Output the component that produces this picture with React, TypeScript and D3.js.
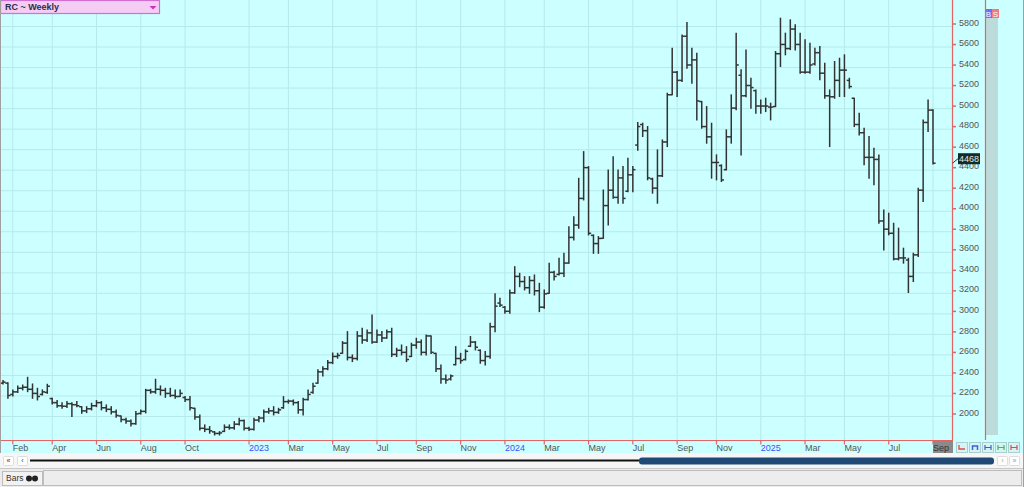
import React from 'react';
import * as d3 from 'd3';

const firstWeek = '2022-01-21';

const opens = [
  2325, 2325, 2215, 2240, 2275, 2285, 2265, 2225, 2215, 2235,
  2175, 2135, 2105, 2100, 2125, 2115, 2095, 2055, 2075, 2105,
  2135, 2085, 2070, 2045, 2005, 1970, 1955, 1930, 2030, 2050,
  2255, 2240, 2265, 2255, 2225, 2205, 2195, 2185, 2165, 2080,
  1995, 1885, 1875, 1850, 1835, 1855, 1895, 1890, 1925, 1960,
  1885, 1875, 1965, 1985, 2045, 2055, 2040, 2085, 2145, 2150,
  2135, 2065, 2165, 2235, 2325, 2435, 2465, 2525, 2585, 2616,
  2715, 2575, 2565, 2785, 2745, 2815, 2725, 2795, 2765, 2825,
  2605, 2645, 2625, 2585, 2695, 2725, 2625, 2785, 2615, 2465,
  2365, 2365, 2505, 2565, 2555, 2685, 2725, 2645, 2545, 2585,
  2875, 3105, 3065, 3025, 3205, 3365, 3315, 3255, 3325, 3225,
  3065, 3200, 3405, 3385, 3395, 3495, 3745, 3865, 4125, 4425,
  3765, 3685, 3736, 4055, 4205, 4135, 4325, 4195, 4355, 4645,
  4845, 4785, 4315, 4225, 4345, 4675, 5135, 5355, 5275, 5705,
  5425, 5475, 5069, 4825, 4725, 4475, 4445, 4405, 4725, 5005,
  5325, 5125, 5225, 5175, 5025, 5025, 5015, 5020, 5535, 5625,
  5585, 5775, 5625, 5355, 5355, 5435, 5545, 5345, 5125, 5115,
  5275, 5375, 5275, 5101, 4845, 4765, 4525, 4525, 4505, 3905,
  3825, 3785, 3535, 3545, 3525, 3365, 3575, 4205, 4865, 4985,
];

const highs = [
  2350, 2330, 2259, 2298, 2307, 2382, 2317, 2275, 2259, 2314,
  2177, 2155, 2135, 2145, 2135, 2145, 2096, 2096, 2129, 2155,
  2145, 2113, 2096, 2064, 2005, 1983, 1966, 2048, 2064, 2265,
  2265, 2363, 2298, 2275, 2275, 2259, 2259, 2194, 2194, 2080,
  2015, 1918, 1902, 1853, 1853, 1918, 1918, 1950, 1983, 1966,
  1895, 1983, 1999, 2064, 2080, 2096, 2080, 2194, 2161, 2161,
  2145, 2178, 2259, 2324, 2455, 2485, 2545, 2619, 2616, 2730,
  2827, 2600, 2827, 2860, 2844, 2990, 2844, 2827, 2844, 2860,
  2665, 2697, 2681, 2714, 2762, 2746, 2795, 2785, 2616, 2503,
  2405, 2405, 2681, 2616, 2649, 2779, 2730, 2649, 2633, 2909,
  3195, 3152, 3071, 3233, 3460, 3395, 3363, 3363, 3379, 3298,
  3233, 3493, 3415, 3541, 3590, 3850, 3947, 4321, 4581, 4435,
  3769, 3753, 4207, 4402, 4532, 4402, 4435, 4516, 4435, 4865,
  4858, 4825, 4322, 4598, 4695, 5150, 5588, 5361, 5718, 5839,
  5588, 5540, 5069, 5020, 4858, 4549, 4452, 4793, 5134, 5735,
  5378, 5572, 5296, 5182, 5085, 5101, 5053, 5556, 5881, 5735,
  5865, 5816, 5735, 5670, 5637, 5588, 5605, 5442, 5182, 5459,
  5491, 5524, 5296, 5101, 4955, 4809, 4728, 4614, 4549, 4013,
  3981, 3883, 3835, 3640, 3542, 3591, 4224, 4890, 5085, 4988,
];

const lows = [
  2317, 2177, 2200, 2233, 2259, 2242, 2177, 2161, 2210, 2226,
  2122, 2090, 2080, 2087, 1999, 2096, 2031, 2038, 2064, 2096,
  2064, 2048, 2025, 1992, 1950, 1934, 1908, 1925, 2025, 2035,
  2226, 2226, 2210, 2187, 2194, 2178, 2194, 2145, 2064, 1973,
  1869, 1853, 1837, 1820, 1820, 1853, 1876, 1876, 1918, 1869,
  1863, 1869, 1950, 1950, 2031, 2015, 2031, 2080, 2129, 2113,
  2031, 2015, 2161, 2226, 2325, 2395, 2455, 2515, 2568, 2616,
  2551, 2535, 2551, 2714, 2730, 2714, 2720, 2730, 2762, 2584,
  2584, 2600, 2535, 2584, 2665, 2600, 2600, 2615, 2438, 2324,
  2324, 2356, 2503, 2519, 2551, 2681, 2649, 2519, 2503, 2568,
  2825, 3071, 3006, 3006, 3200, 3265, 3233, 3200, 3184, 3022,
  3055, 3200, 3330, 3379, 3363, 3493, 3720, 3834, 4110, 3769,
  3590, 3590, 3736, 3866, 4126, 4077, 4077, 4191, 4191, 4595,
  4728, 4306, 4176, 4078, 4338, 4630, 5134, 5118, 5264, 5394,
  5247, 4890, 4809, 4663, 4322, 4306, 4289, 4403, 4663, 4988,
  4549, 5115, 5004, 4955, 4955, 4971, 4890, 5020, 5410, 5524,
  5575, 5572, 5345, 5345, 5345, 5426, 5280, 5101, 4630, 5101,
  5118, 5118, 5199, 4825, 4744, 4452, 4322, 4257, 3883, 3623,
  3770, 3526, 3526, 3494, 3208, 3315, 3558, 4094, 4777, 4460,
];

const closes = [
  2335, 2205, 2240, 2275, 2285, 2265, 2225, 2195, 2240, 2295,
  2135, 2105, 2100, 2125, 2115, 2105, 2055, 2075, 2105, 2135,
  2085, 2070, 2045, 2010, 1970, 1955, 1930, 2025, 2050, 2255,
  2240, 2265, 2255, 2225, 2205, 2195, 2225, 2165, 2085, 1995,
  1885, 1875, 1860, 1835, 1840, 1895, 1890, 1925, 1960, 1885,
  1875, 1965, 1985, 2045, 2055, 2040, 2065, 2145, 2150, 2135,
  2065, 2165, 2215, 2295, 2435, 2465, 2525, 2585, 2595, 2715,
  2575, 2565, 2785, 2745, 2815, 2725, 2795, 2765, 2825, 2605,
  2645, 2625, 2555, 2695, 2725, 2625, 2785, 2625, 2465, 2365,
  2355, 2395, 2565, 2545, 2635, 2725, 2675, 2545, 2585, 2875,
  3075, 3085, 3025, 3205, 3365, 3315, 3255, 3325, 3225, 3065,
  3195, 3405, 3365, 3395, 3495, 3745, 3865, 4125, 4425, 3785,
  3685, 3735, 4055, 4205, 4135, 4325, 4125, 4355, 4405, 4825,
  4785, 4325, 4225, 4345, 4675, 5135, 5355, 5275, 5705, 5425,
  5475, 5075, 4825, 4725, 4475, 4475, 4305, 4725, 5005, 5425,
  5125, 5225, 5205, 5025, 5025, 5025, 5015, 5535, 5625, 5585,
  5775, 5625, 5355, 5355, 5425, 5545, 5345, 5125, 5115, 5275,
  5375, 5375, 5215, 4845, 4765, 4525, 4525, 4505, 3905, 3825,
  3785, 3535, 3545, 3545, 3365, 3575, 4205, 4865, 4985, 4468,
];

const priceTicks = [2000, 2200, 2400, 2600, 2800, 3000, 3200, 3400, 3600, 3800, 4000, 4200, 4400, 4600, 4800, 5000, 5200, 5400, 5600, 5800];

const tickMonths = ['2022-02', '2022-04', '2022-06', '2022-08', '2022-10', '2023-01', '2023-03', '2023-05', '2023-07', '2023-09', '2023-11', '2024-01', '2024-03', '2024-05', '2024-07', '2024-09', '2024-11', '2025-01', '2025-03', '2025-05', '2025-07', '2025-09'];
const tickLabels = ['Feb', 'Apr', 'Jun', 'Aug', 'Oct', '2023', 'Mar', 'May', 'Jul', 'Sep', 'Nov', '2024', 'Mar', 'May', 'Jul', 'Sep', 'Nov', '2025', 'Mar', 'May', 'Jul', 'Sep'];

const title = 'RC ~ Weekly';
const tabLabel = 'Bars';

const FONT = '"Liberation Sans", Arial, sans-serif';
const BG = '#ccffff';
const GRID = '#b6eaea';
const RED = '#e46464';
const BAR = '#333333';

export default function App() {
  const parse = d3.utcParse('%Y-%m-%d');
  const t0 = parse(firstWeek) as Date;
  const dates = closes.map((_, i) => d3.utcDay.offset(t0, 7 * i));
  const x = d3.scaleUtc().domain([dates[0], dates[dates.length - 1]]).range([3, 933]);
  const y = d3.scaleLinear().domain([2000, 5800]).range([416.5, 26.5]);
  const fmt = d3.utcFormat('%Y-%m');
  const ticks = tickMonths.map((m, k) => {
    const d = dates.find((dd) => fmt(dd) === m) as Date;
    return { x: x(d), label: tickLabels[k], year: /^\d{4}$/.test(tickLabels[k]) };
  });
  const last = closes.length - 1;
  const lastY = y(closes[last]);
  const tk = 2.6;

  return (
    <svg width={1024} height={487} style={{ position: 'absolute', left: 0, top: 0, display: 'block' }} fontFamily={FONT}>
      <rect x={0} y={0} width={1024} height={487} fill="#ececec" />
      <rect x={0} y={0} width={1024} height={453} fill={BG} />
      {/* grid */}
      {priceTicks.map((v) => (
        <line key={'hg' + v} x1={0} x2={952} y1={y(v)} y2={y(v)} stroke={GRID} strokeWidth={1} />
      ))}
      {ticks.map((t, k) => (
        <line key={'vg' + k} x1={t.x} x2={t.x} y1={0} y2={440} stroke={GRID} strokeWidth={1} />
      ))}
      {/* bars */}
      <g stroke={BAR} strokeWidth={1.5}>
        {dates.map((d, i) => {
          const cx = x(d);
          return (
            <g key={i}>
              <line x1={cx} x2={cx} y1={y(highs[i]) - 0.5} y2={y(lows[i]) + 0.5} />
              <line x1={cx - tk} x2={cx} y1={y(opens[i])} y2={y(opens[i])} />
              <line x1={cx} x2={cx + tk} y1={y(closes[i])} y2={y(closes[i])} />
            </g>
          );
        })}
      </g>
      {/* right gray strip */}
      <rect x={986} y={18} width={12} height={417} fill="#bcdcdc" />
      <rect x={985} y={9} width={7} height={9} fill="#6f6ff5" />
      <rect x={992} y={9} width={7} height={9} fill="#f27a7a" />
      <text x={988.5} y={16.5} fontSize={8} fill="#fff" textAnchor="middle">B</text>
      <text x={995.5} y={16.5} fontSize={8} fill="#fff" textAnchor="middle">S</text>
      {/* axis lines */}
      <line x1={952.5} x2={952.5} y1={0} y2={440} stroke={RED} strokeWidth={1.2} />
      <line x1={985.5} x2={985.5} y1={0} y2={440} stroke={RED} strokeWidth={1.2} />
      <line x1={0} x2={953} y1={440.5} y2={440.5} stroke={RED} strokeWidth={1.2} />
      {/* price axis */}
      {priceTicks.map((v) => (
        <g key={'pt' + v}>
          <line x1={952} x2={956} y1={y(v) - 2.5} y2={y(v) - 2.5} stroke={RED} strokeWidth={1.5} />
          <text x={959} y={y(v) - 4} dy="0.35em" fontSize={9} fill="#555">{v}</text>
        </g>
      ))}
      {/* last price */}
      <line x1={952.5} x2={958} y1={lastY} y2={lastY - 4.5} stroke="#333" strokeWidth={1} />
      <rect x={958} y={lastY - 10} width={22} height={11} fill="#0f2c28" />
      <text x={969} y={lastY - 4.5} dy="0.35em" fontSize={9} fill="#e4e4e4" textAnchor="middle">{closes[last]}</text>
      {/* x axis */}
      {ticks.map((t, k) => (
        <g key={'xt' + k}>
          {k === ticks.length - 1 && <rect x={t.x} y={441} width={953 - t.x} height={12} fill="#8a8a8a" />}
          <line x1={t.x} x2={t.x} y1={440} y2={444.5} stroke={RED} strokeWidth={1.2} />
          <text x={t.x} y={448} dy="0.35em" fontSize={9} fill={t.year ? '#4a4aff' : k === ticks.length - 1 ? '#333' : '#555'}>{t.label}</text>
        </g>
      ))}
      {/* small buttons */}
      {[956, 969, 982, 995, 1008].map((bx, k) => {
        const col = ['#e04848', '#3a5ee0', '#3a5ee0', '#38c048', '#e04848'][k];
        return (
          <g key={'btn' + k}>
            <rect x={bx + 0.5} y={442.5} width={11} height={10} fill="#d6f4f4" stroke="#a8d0d0" />
            {k === 0 && <path d={`M${bx + 3},${445} v4 h6`} stroke={col} fill="none" strokeWidth={1.3} />}
            {k === 1 && <path d={`M${bx + 3.5},${450} v-4 h5 v4`} stroke={col} fill="none" strokeWidth={1.5} />}
            {k >= 2 && <path d={`M${bx + 3},${445} v5 M${bx + 9},${445} v5 M${bx + 3},${447.5} h6`} stroke={col} fill="none" strokeWidth={1.2} />}
          </g>
        );
      })}
      {/* scroll row */}
      <rect x={0} y={453} width={1024} height={15} fill="#f6f6f6" />
      {[3, 17].map((bx, k) => (
        <g key={'lb' + k}>
          <rect x={bx + 0.5} y={456.5} width={10} height={9} fill="#fff" stroke="#ddd" rx={1} />
          <text x={bx + 5.5} y={461} dy="0.35em" fontSize={7} textAnchor="middle" fill="#333">{k === 0 ? '«' : '‹'}</text>
        </g>
      ))}
      {[997, 1009].map((bx, k) => (
        <g key={'rb' + k}>
          <rect x={bx + 0.5} y={456.5} width={10} height={9} fill="#fff" stroke="#ddd" rx={1} />
          <text x={bx + 5.5} y={461} dy="0.35em" fontSize={7} textAnchor="middle" fill="#999">{k === 0 ? '›' : '»'}</text>
        </g>
      ))}
      <line x1={30} x2={641} y1={460.5} y2={460.5} stroke="#111" strokeWidth={2} />
      <rect x={639} y={457.5} width={355} height={7} rx={3} fill="#1f4a78" />
      {/* bottom tab bar */}
      <line x1={0} x2={1024} y1={468.5} y2={468.5} stroke="#c8c8c8" />
      <rect x={2.5} y={471.5} width={40} height={14} fill="#f2f2f2" stroke="#bdbdbd" />
      <text x={6} y={478.5} dy="0.35em" fontSize={8.5} fill="#333">{tabLabel}</text>
      <circle cx={29} cy={478.5} r={3} fill="#222" />
      <circle cx={35} cy={478.5} r={3} fill="#222" />
      <rect x={43.5} y={470.5} width={978} height={15} fill="#ededed" stroke="#bdbdbd" />
      {/* header */}
      <rect x={0.5} y={0.5} width={159} height={13} fill="#f4ccf4" stroke="#d070d0" strokeWidth={1.2} />
      <text x={5} y={7} dy="0.35em" fontSize={9} fontWeight="bold" fill="#2e2e4a">{title}</text>
      <path d="M149.5,6 L156.5,6 L153,9.5 Z" fill="#cc33bb" />
      {/* outer border */}
      <line x1={0.5} x2={0.5} y1={0} y2={453} stroke="#a0a0a0" />
      <line x1={1023.5} x2={1023.5} y1={0} y2={487} stroke="#a0a0a0" />
    </svg>
  );
}
